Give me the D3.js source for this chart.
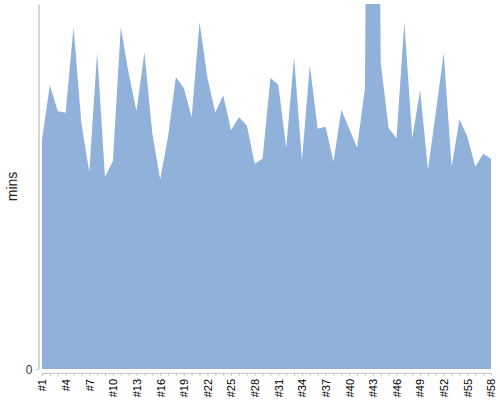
<!DOCTYPE html>
<html>
<head>
<meta charset="utf-8">
<script src="https://cdn.jsdelivr.net/npm/d3@7"></script>
<style>
  body { margin: 0; background: #fff; }
  text { font-family: "Liberation Sans", Arial, sans-serif; }
</style>
</head>
<body>
<div id="chart"></div>
<script>
// data
var labels = d3.range(1, 59).map(function(i) { return '#' + i; });
var mins = [31.4, 38.9, 35.3, 35.1, 46.8, 33.7, 27.0, 43.4, 26.3, 28.5,
            46.8, 40.5, 35.3, 43.4, 32.3, 26.0, 31.8, 40.0, 38.5, 34.5,
            47.5, 39.9, 35.1, 37.5, 32.7, 34.5, 33.4, 28.1, 28.8, 39.9,
            38.9, 30.3, 42.7, 28.6, 41.6, 32.9, 33.2, 28.4, 35.5, 32.9,
            30.3, 38.5, 190, 41.9, 33.0, 31.6, 47.5, 31.6, 38.2, 27.3,
            35.2, 43.3, 27.7, 34.2, 31.8, 27.7, 29.5, 28.8];
var yTicks = [0];

var width = 500, height = 400;
var plot = { left: 42, right: 491, top: 4, bottom: 369 };

var svg = d3.select('#chart').append('svg')
    .attr('width', width)
    .attr('height', height);

var x = d3.scalePoint()
    .domain(labels)
    .range([plot.left, plot.right]);

var y = d3.scaleLinear()
    .domain([0, 50])
    .range([plot.bottom, plot.top]);

svg.append('clipPath')
    .attr('id', 'clip')
  .append('rect')
    .attr('x', 0)
    .attr('y', plot.top)
    .attr('width', width)
    .attr('height', plot.bottom - plot.top + 1);

var area = d3.area()
    .x(function(d, i) { return x(labels[i]); })
    .y0(y(0))
    .y1(function(d) { return y(d); });

svg.append('path')
    .datum(mins)
    .attr('clip-path', 'url(#clip)')
    .attr('fill', '#8fb1da')
    .attr('d', area);

// y axis
var yAxis = svg.append('g')
    .attr('transform', 'translate(38.5,0)')
    .call(d3.axisLeft(y).tickValues(yTicks).tickSize(3).tickSizeOuter(0));
yAxis.select('.domain').attr('stroke', '#c8c8c8').attr('stroke-width', 1.5);
yAxis.selectAll('.tick line').attr('stroke', '#c8c8c8');
yAxis.selectAll('.tick text')
    .attr('x', -6)
    .attr('dy', '0.35em')
    .attr('fill', '#333')
    .style('font-size', '12px');

svg.append('text')
    .attr('transform', 'translate(17,' + ((plot.top + plot.bottom) / 2) + ') rotate(-90)')
    .attr('text-anchor', 'middle')
    .attr('fill', '#222')
    .style('font-size', '14px')
    .text('mins');

// x axis
var xAxis = svg.append('g')
    .attr('transform', 'translate(0,373)')
    .call(d3.axisBottom(x).tickSize(3).tickSizeOuter(0)
        .tickFormat(function(d, i) { return i % 3 === 0 ? d : ''; }));
xAxis.select('.domain').attr('stroke', '#c8c8c8');
xAxis.selectAll('.tick line').attr('stroke', '#c8c8c8');
xAxis.selectAll('.tick text')
    .attr('transform', 'rotate(-90)')
    .attr('text-anchor', 'end')
    .attr('x', -6)
    .attr('y', 0)
    .attr('dy', '0.35em')
    .attr('fill', '#000')
    .style('font-size', '11px');
</script>
</body>
</html>
